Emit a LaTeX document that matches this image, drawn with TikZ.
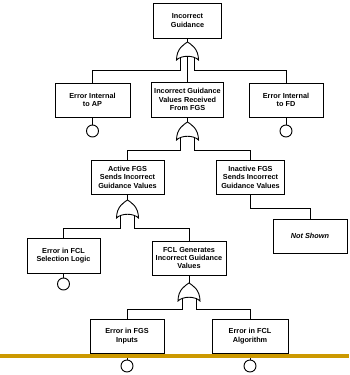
\documentclass[tikz,border=0pt]{standalone}
\usepackage{fontspec}
\setmainfont{Liberation Sans}
\definecolor{rulegold}{RGB}{204,153,0}
\tikzset{
  wire/.style={line width=0.9pt},
  box/.style={draw, line width=0.9pt, fill=white, inner sep=0pt, align=center,
    font=\fontsize{7.3}{8.4}\selectfont\bfseries},
  evt/.style={draw, circle, line width=0.9pt, fill=white, minimum size=12pt, inner sep=0pt},
  % OR gate: origin at the apex, outputs hang below
  orgate/.pic={
    \draw[wire, fill=white] (0,0) .. controls (4,2.5) and (11,7) .. (11,18)
      .. controls (6,13) and (-6,13) .. (-11,18)
      .. controls (-11,7) and (-4,2.5) .. (0,0) -- cycle;
    \coordinate (-apex) at (0,0);
    \coordinate (-out) at (0,14.25);
    \coordinate (-lleg) at (-7,15.2);
    \coordinate (-rleg) at (7,15.2);
  }
}
\begin{document}
\begin{tikzpicture}[x=1pt, y=-1pt]
\useasboundingbox (0,0) rectangle (349,375);
\fill[white] (0,0) rectangle (349,375);

% events
\node[box, minimum width=68pt, minimum height=35pt] (top) at (187.5,20.5) {Incorrect\\Guidance};
\node[box, minimum width=75pt, minimum height=34pt] (ap) at (92.5,100) {Error Internal\\to AP};
\node[box, minimum width=72pt, minimum height=35pt] (mid) at (187.5,99.5) {Incorrect Guidance\\Values Received\\From FGS};
\node[box, minimum width=74pt, minimum height=34pt] (fd) at (286,100) {Error Internal\\to FD};
\node[box, minimum width=73pt, minimum height=34pt] (act) at (127.5,177) {Active FGS\\Sends Incorrect\\Guidance Values};
\node[box, minimum width=68pt, minimum height=34pt] (inact) at (250.5,177) {Inactive FGS\\Sends Incorrect\\Guidance Values};
\node[box, minimum width=74pt, minimum height=34pt, font=\fontsize{7.3}{8.4}\selectfont\bfseries\itshape] (ns) at (310,236) {Not Shown};
\node[box, minimum width=73pt, minimum height=35pt] (sel) at (63.5,255.5) {Error in FCL\\Selection Logic};
\node[box, minimum width=74pt, minimum height=34pt] (gen) at (189,258) {FCL Generates\\Incorrect Guidance\\Values};
\node[box, minimum width=74pt, minimum height=34pt] (fgs) at (127,336) {Error in FGS\\Inputs};
\node[box, minimum width=76pt, minimum height=34pt] (alg) at (250,336) {Error in FCL\\Algorithm};

% basic events
\node[evt] (e1) at (92.5,131) {};
\node[evt] (e2) at (286,131) {};
\node[evt] (e3) at (63.5,284) {};
\node[evt] (e4) at (127,366) {};
\node[evt] (e5) at (250,366) {};

% gates
\pic (g1) at (187.5,42) {orgate};
\pic (g2) at (187.5,122) {orgate};
\pic (g3) at (127.5,200) {orgate};
\pic (g4) at (189,283) {orgate};

% bus levels
\coordinate (bus1) at (0,70);
\coordinate (bus2) at (0,150);
\coordinate (bus3) at (0,228);
\coordinate (bus4) at (0,309);
\coordinate (bus5) at (0,208);

% connectors
\draw[wire] (top.south) -- (g1-apex);
\draw[wire] (g1-lleg) -- (g1-lleg |- bus1) -| (ap.north);
\draw[wire] (g1-rleg) -- (g1-rleg |- bus1) -| (fd.north);
\draw[wire] (g1-out) -- (mid.north);

\draw[wire] (mid.south) -- (g2-apex);
\draw[wire] (g2-lleg) -- (g2-lleg |- bus2) -| (act.north);
\draw[wire] (g2-rleg) -- (g2-rleg |- bus2) -| (inact.north);

\draw[wire] (inact.south) -- (inact.south |- bus5) -| (ns.north);

\draw[wire] (act.south) -- (g3-apex);
\draw[wire] (g3-lleg) -- (g3-lleg |- bus3) -| (sel.north);
\draw[wire] (g3-rleg) -- (g3-rleg |- bus3) -| (gen.north);

\draw[wire] (gen.south) -- (g4-apex);
\draw[wire] (g4-lleg) -- (g4-lleg |- bus4) -| (fgs.north);
\draw[wire] (g4-rleg) -- (g4-rleg |- bus4) -| (alg.north);

\draw[wire] (ap.south) -- (e1.north);
\draw[wire] (fd.south) -- (e2.north);
\draw[wire] (sel.south) -- (e3.north);
\draw[wire] (fgs.south) -- (e4.north);
\draw[wire] (alg.south) -- (e5.north);

% slide rule
\draw[rulegold, line width=3.5pt] (0,356) -- (349,356);
\end{tikzpicture}
\end{document}
